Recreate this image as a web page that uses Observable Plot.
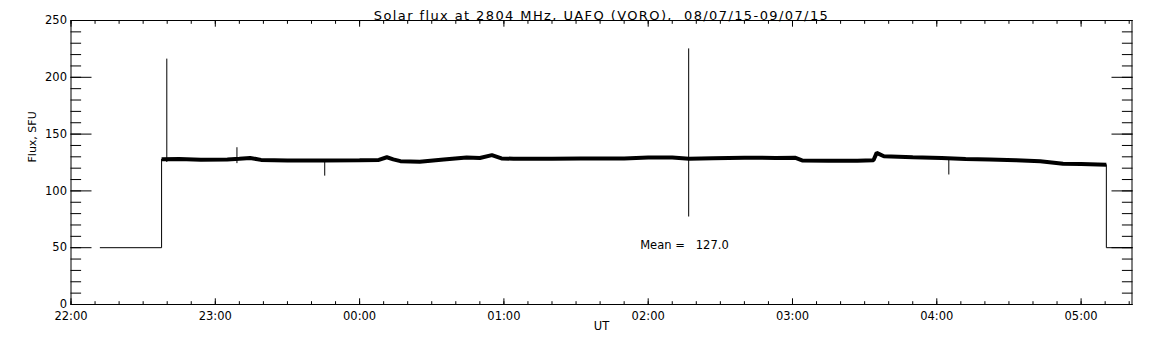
<!DOCTYPE html>
<html><head><meta charset="utf-8">
<script src="https://cdn.jsdelivr.net/npm/d3@7"></script>
<script src="https://cdn.jsdelivr.net/npm/@observablehq/plot@0.6"></script>
<style>
body{margin:0;background:#fff;}
svg text{white-space:pre;}
</style></head><body><div id="chart"></div>
<script>
const title = "Solar flux at 2804 MHz, UAFO (VORO),  08/07/15-09/07/15";
const xLabel = "UT";
const yLabel = "Flux, SFU";
const meanLabel = "Mean =   127.0";
const meanAt = ["01:56:40", 52];
const yTicks = [0, 50, 100, 150, 200, 250];
const xDomain = ["22:00:00", "05:21:10"];

// main (noisy) flux band
const traceTimes = ["22:37:40","22:45:00","22:54:00","23:05:00","23:10:00","23:14:30","23:19:00","23:30:00","23:45:00","00:00:00","00:08:00","00:11:20","00:14:00","00:17:00","00:25:00","00:35:00","00:44:30","00:50:00","00:55:00","00:59:00","01:04:00","01:20:00","01:32:00","01:50:00","02:00:00","02:10:00","02:17:00","02:27:00","02:40:00","02:53:00","03:01:00","03:04:00","03:15:00","03:27:00","03:33:40","03:35:00","03:38:00","03:50:00","04:02:00","04:12:00","04:22:00","04:33:00","04:43:00","04:52:30","05:00:00","05:10:30"];
const traceFlux =  [127.8,128.0,127.5,127.6,128.2,129.0,127.3,126.8,126.8,127.0,127.3,129.6,127.8,126.2,125.6,127.6,129.4,129.0,131.5,128.6,128.3,128.2,128.6,128.6,129.5,129.5,128.3,128.8,129.2,129.0,129.2,126.8,126.6,126.6,127.0,133.5,130.5,129.6,129.0,128.0,127.6,127.0,126.0,124.0,123.6,123.0];

// quiet-level steps before and after the observation
const stepInTimes = ["22:12:10", "22:37:40", "22:37:40"];
const stepInFlux = [50, 50, 127.8];
const stepOutTimes = ["05:10:30", "05:10:30", "05:21:10"];
const stepOutFlux = [123, 50, 50];

// short spikes
const spikeTimes = ["22:39:50", "23:09:00", "23:45:30", "02:16:50", "04:05:00"];
const spikeLow = [125, 124, 113, 77, 114];
const spikeHigh = [216, 138, 127, 225, 128];

function t(s) {
  const [h, m, sec] = s.split(":").map(Number);
  const day = h >= 12 ? 8 : 9;
  return new Date(Date.UTC(2015, 6, day, h, m, sec || 0));
}

const trace = traceTimes.map((s, i) => ({time: t(s), flux: traceFlux[i]}));
const stepIn = stepInTimes.map((s, i) => ({time: t(s), flux: stepInFlux[i]}));
const stepOut = stepOutTimes.map((s, i) => ({time: t(s), flux: stepOutFlux[i]}));
const spikes = spikeTimes.map((s, i) => ({time: t(s), lo: spikeLow[i], hi: spikeHigh[i]}));
const x0 = t(xDomain[0]), x1 = t(xDomain[1]);
const hourTicks = d3.utcHour.range(x0, new Date(+x1 + 1));
const minorX = d3.utcMinute.every(10).range(x0, new Date(+x1 + 1));
const minorY = d3.range(0, 251, 10);
const none = () => "";

const chart = Plot.plot({
  width: 1152, height: 345,
  marginTop: 20, marginBottom: 41, marginLeft: 70.5, marginRight: 20.5,
  x: {type: "utc", domain: [x0, x1]},
  y: {domain: [0, 250]},
  style: {fontFamily: "DejaVu Sans", fontSize: "11.5px", color: "#000", background: "#fff"},
  marks: [
    Plot.frame({stroke: "#000"}),
    Plot.axisX(hourTicks, {anchor: "bottom", tickSize: -5.7, tickPadding: 13.5, tickFormat: d3.utcFormat("%H:%M"), label: null}),
    Plot.axisX(minorX, {anchor: "bottom", tickSize: -2.8, tickFormat: none, label: null}),
    Plot.axisX(hourTicks, {anchor: "top", tickSize: -5.7, tickFormat: none, label: null}),
    Plot.axisX(minorX, {anchor: "top", tickSize: -2.8, tickFormat: none, label: null}),
    Plot.axisY(yTicks, {anchor: "left", tickSize: -21, tickPadding: 25, label: null}),
    Plot.axisY(minorY, {anchor: "left", tickSize: -10.6, tickFormat: none, label: null}),
    Plot.axisY(yTicks, {anchor: "right", tickSize: -21, tickFormat: none, label: null}),
    Plot.axisY(minorY, {anchor: "right", tickSize: -10.6, tickFormat: none, label: null}),
    Plot.line(stepIn, {x: "time", y: "flux", stroke: "#000", strokeWidth: 1}),
    Plot.line(stepOut, {x: "time", y: "flux", stroke: "#000", strokeWidth: 1}),
    Plot.ruleX(spikes, {x: "time", y1: "lo", y2: "hi", stroke: "#000", strokeWidth: 1}),
    Plot.line(trace, {x: "time", y: "flux", stroke: "#000", strokeWidth: 4, strokeLinejoin: "miter", strokeLinecap: "butt"}),
    Plot.text([title], {frameAnchor: "top", dy: -10, fontSize: 13}),
    Plot.text([xLabel], {frameAnchor: "bottom", dy: 25}),
    Plot.text([yLabel], {frameAnchor: "left", rotate: -90, dx: -38.5, fontSize: 11}),
    Plot.text([{time: t(meanAt[0]), flux: meanAt[1], label: meanLabel}], {x: "time", y: "flux", text: "label", textAnchor: "start"})
  ]
});
d3.select(chart).selectAll("text").filter(function () { return this.textContent === title; }).attr("letter-spacing", "1.4px");
document.getElementById("chart").appendChild(chart);
</script></body></html>
